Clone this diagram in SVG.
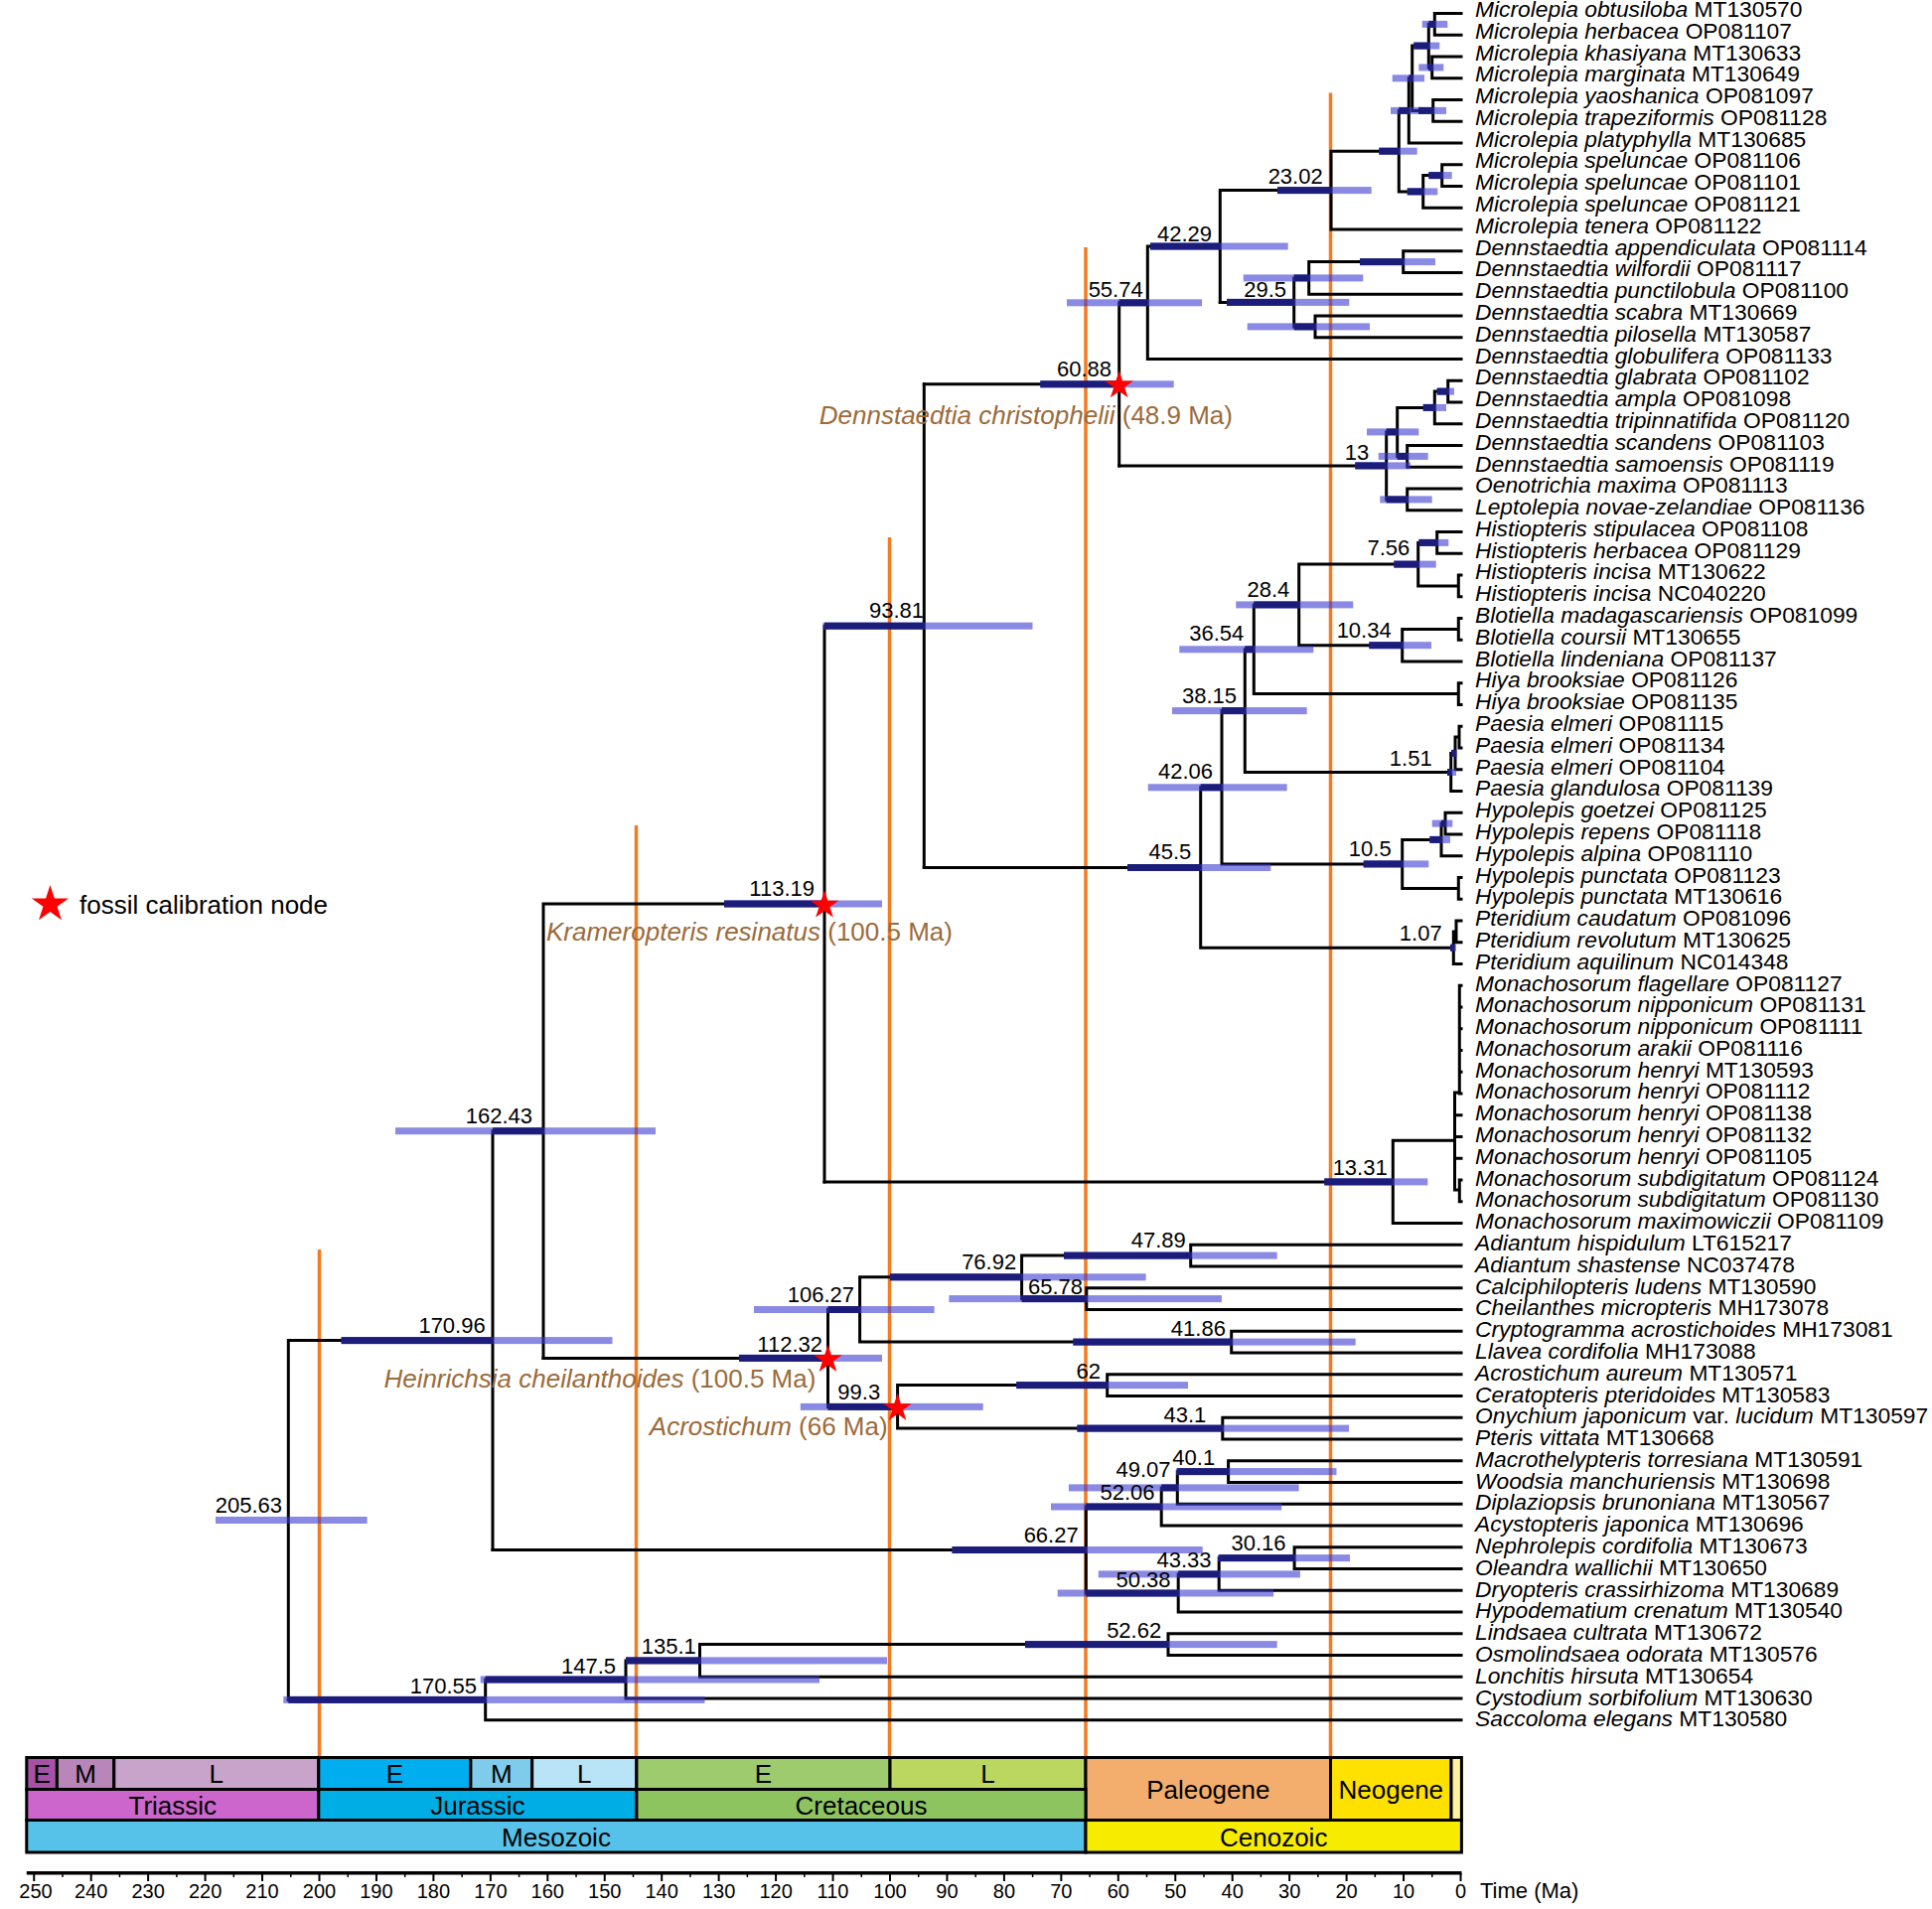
<svg xmlns="http://www.w3.org/2000/svg" width="1945" height="1922" viewBox="0 0 1945 1922">
<style>
text{font-family:'Liberation Sans',Arial,Helvetica,sans-serif;fill:#000}
.tip{font-size:22.8px}
.nl{font-size:22px;text-anchor:end}
.fos{font-size:26px;fill:#9B6B3B}
.geo{font-size:26px;text-anchor:middle}
.ax{font-size:20px;text-anchor:middle}
.br{stroke:#000;stroke-width:3;fill:none;stroke-linecap:square}
.or{stroke:#F47B20;stroke-width:3.5}
.bl{fill:#3C3CD2;fill-opacity:0.6}
.bd{fill:#1C1C7A}
.cell{stroke:#000;stroke-width:3}
.it{font-style:italic}
</style>
<defs>
<path id="star" d="M0,-15 L3.37,-4.64 L14.27,-4.64 L5.45,1.77 L8.82,12.14 L0,5.73 L-8.82,12.14 L-5.45,1.77 L-14.27,-4.64 L-3.37,-4.64Z" fill="#FF0000"/>
</defs>
<rect width="1945" height="1922" fill="#fff"/>

<g id="boundaries">
<line class="or" x1="321.5" y1="1258" x2="321.5" y2="1769.5"/>
<line class="or" x1="640.5" y1="831" x2="640.5" y2="1769.5"/>
<line class="or" x1="895.5" y1="541" x2="895.5" y2="1769.5"/>
<line class="or" x1="1093" y1="249" x2="1093" y2="1769.5"/>
<line class="or" x1="1339.5" y1="93.5" x2="1339.5" y2="1769.5"/>
</g>

<g id="timescale">
<rect class="cell" x="26.8" y="1769.5" width="30.6" height="32" fill="#A650A6"/>
<rect class="cell" x="57.4" y="1769.5" width="57.4" height="32" fill="#B886B9"/>
<rect class="cell" x="114.8" y="1769.5" width="206" height="32" fill="#C8A4CB"/>
<rect class="cell" x="320.8" y="1769.5" width="153.1" height="32" fill="#00AEEF"/>
<rect class="cell" x="473.9" y="1769.5" width="61.8" height="32" fill="#7FCBEB"/>
<rect class="cell" x="535.7" y="1769.5" width="105.2" height="32" fill="#B9E3F6"/>
<rect class="cell" x="640.9" y="1769.5" width="255.1" height="32" fill="#9DCB6E"/>
<rect class="cell" x="896" y="1769.5" width="197" height="32" fill="#BCD75F"/>
<rect class="cell" x="1093" y="1769.5" width="246.5" height="63" fill="#F3AE6D"/>
<rect class="cell" x="1339.5" y="1769.5" width="121.5" height="63" fill="#FFE100"/>
<rect class="cell" x="1461" y="1769.5" width="10.4" height="63" fill="#FFF2A0"/>
<rect class="cell" x="26.8" y="1801.5" width="294" height="31" fill="#CC66CC"/>
<rect class="cell" x="320.8" y="1801.5" width="320.1" height="31" fill="#00AEE6"/>
<rect class="cell" x="640.9" y="1801.5" width="452.1" height="31" fill="#8DC460"/>
<rect class="cell" x="26.8" y="1832.5" width="1066.2" height="32.5" fill="#56C2E9"/>
<rect class="cell" x="1093" y="1832.5" width="378.4" height="32.5" fill="#F7EC00"/>
<text class="geo" x="42.1" y="1795">E</text>
<text class="geo" x="86" y="1795">M</text>
<text class="geo" x="217.8" y="1795">L</text>
<text class="geo" x="397.4" y="1795">E</text>
<text class="geo" x="504.8" y="1795">M</text>
<text class="geo" x="588.3" y="1795">L</text>
<text class="geo" x="768.5" y="1795">E</text>
<text class="geo" x="994.5" y="1795">L</text>
<text class="geo" x="1216.3" y="1810.5">Paleogene</text>
<text class="geo" x="1400.3" y="1810.5">Neogene</text>
<text class="geo" x="173.8" y="1826.5">Triassic</text>
<text class="geo" x="480.9" y="1826.5">Jurassic</text>
<text class="geo" x="867" y="1826.5">Cretaceous</text>
<text class="geo" x="560" y="1858.5">Mesozoic</text>
<text class="geo" x="1282.2" y="1858.5">Cenozoic</text>
</g>

<g id="axis">
<line x1="26.8" y1="1885.7" x2="1471.5" y2="1885.7" stroke="#000" stroke-width="3.5"/>
<path stroke="#000" stroke-width="2" fill="none" d="M1470.5,1886v8M1413.05,1886v8M1355.6,1886v8M1298.15,1886v8M1240.7,1886v8M1183.25,1886v8M1125.8,1886v8M1068.35,1886v8M1010.9,1886v8M953.45,1886v8M896,1886v8M838.55,1886v8M781.1,1886v8M723.65,1886v8M666.2,1886v8M608.75,1886v8M551.3,1886v8M493.85,1886v8M436.4,1886v8M378.95,1886v8M321.5,1886v8M264.05,1886v8M206.6,1886v8M149.15,1886v8M91.7,1886v8M34.25,1886v8"/>
<path stroke="#000" stroke-width="1.5" fill="none" d="M1441.78,1886v4M1384.33,1886v4M1326.88,1886v4M1269.43,1886v4M1211.98,1886v4M1154.53,1886v4M1097.08,1886v4M1039.63,1886v4M982.18,1886v4M924.73,1886v4M867.28,1886v4M809.83,1886v4M752.38,1886v4M694.93,1886v4M637.48,1886v4M580.03,1886v4M522.58,1886v4M465.13,1886v4M407.68,1886v4M350.23,1886v4M292.78,1886v4M235.33,1886v4M177.88,1886v4M120.43,1886v4M62.98,1886v4"/>
<text class="ax" x="1470.5" y="1911">0</text>
<text class="ax" x="1413.05" y="1911">10</text>
<text class="ax" x="1355.6" y="1911">20</text>
<text class="ax" x="1298.15" y="1911">30</text>
<text class="ax" x="1240.7" y="1911">40</text>
<text class="ax" x="1183.25" y="1911">50</text>
<text class="ax" x="1125.8" y="1911">60</text>
<text class="ax" x="1068.35" y="1911">70</text>
<text class="ax" x="1010.9" y="1911">80</text>
<text class="ax" x="953.45" y="1911">90</text>
<text class="ax" x="896" y="1911">100</text>
<text class="ax" x="838.55" y="1911">110</text>
<text class="ax" x="781.1" y="1911">120</text>
<text class="ax" x="723.65" y="1911">130</text>
<text class="ax" x="666.2" y="1911">140</text>
<text class="ax" x="608.75" y="1911">150</text>
<text class="ax" x="551.3" y="1911">160</text>
<text class="ax" x="493.85" y="1911">170</text>
<text class="ax" x="436.4" y="1911">180</text>
<text class="ax" x="378.95" y="1911">190</text>
<text class="ax" x="321.5" y="1911">200</text>
<text class="ax" x="264.05" y="1911">210</text>
<text class="ax" x="206.6" y="1911">220</text>
<text class="ax" x="149.15" y="1911">230</text>
<text class="ax" x="91.7" y="1911">240</text>
<text class="ax" x="36" y="1911">250</text>
<text x="1490" y="1911" font-size="22">Time (Ma)</text>
</g>

<g id="connectors">
<path class="br" d="M290.3,1349.6V1711.4M290.3,1349.6H496M496,1138.7V1560.5M496,1138.7H547M547,910V1367.4M547,910H830M830,630.2V1189.9M830,630.2H930.3M930.3,386.8V873.5"/>
<path class="br" d="M930.3,386.8H1126.7M1126.7,304.8V468.9M1126.7,304.8H1155.3M1155.3,248V361.5M1155.3,361.5H1471M1155.3,248H1228.3M1228.3,191.6V304.4M1228.3,191.6H1340M1340,152.2V231M1340,231H1471M1340,152.2H1408.3M1408.3,111.4V192.9M1408.3,111.4H1418.3M1418.3,78.8V144M1418.3,144H1471M1418.3,78.8H1421.7M1421.7,46.1V111.4M1421.7,46.1H1438.3M1438.3,24.4V67.9M1438.3,24.4H1444.3M1444.3,13.5V35.25M1444.3,13.5H1471M1444.3,35.25H1471M1438.3,67.9H1441.7M1441.7,57V78.75M1441.7,57H1471M1441.7,78.75H1471M1421.7,111.4H1442.7M1442.7,100.5V122.25M1442.7,100.5H1471M1442.7,122.25H1471M1408.3,192.9H1432.7M1432.7,176.6V209.25M1432.7,209.25H1471M1432.7,176.6H1451.7M1451.7,165.75V187.5M1451.7,165.75H1471M1451.7,187.5H1471"/>
<path class="br" d="M1228.3,304.4H1302.7M1302.7,279.9V328.9M1302.7,279.9H1317.7M1317.7,263.6V296.25M1317.7,296.25H1471M1317.7,263.6H1412.7M1412.7,252.75V274.5M1412.7,252.75H1471M1412.7,274.5H1471M1302.7,328.9H1324M1324,318V339.75M1324,318H1471M1324,339.75H1471"/>
<path class="br" d="M1126.7,468.9H1395.7M1395.7,434.9V502.9M1395.7,434.9H1406.7M1406.7,410.4V459.4M1406.7,410.4H1444.3M1444.3,394.1V426.75M1444.3,426.75H1471M1444.3,394.1H1457.7M1457.7,383.25V405M1457.7,383.25H1471M1457.7,405H1471M1406.7,459.4H1416.7M1416.7,448.5V470.25M1416.7,448.5H1471M1416.7,470.25H1471M1395.7,502.9H1416.7M1416.7,492V513.75M1416.7,492H1471M1416.7,513.75H1471"/>
<path class="br" d="M930.3,873.5H1208.7M1208.7,792.8V954.2M1208.7,792.8H1230M1230,715.6V869.9M1230,715.6H1253.3M1253.3,653.8V777.5M1253.3,653.8H1262.3M1262.3,608.9V698.6M1262.3,608.9H1307.7M1307.7,568.1V649.7M1307.7,568.1H1427.7M1427.7,546.4V589.9M1427.7,546.4H1446.7M1446.7,535.5V557.25M1446.7,535.5H1471M1446.7,557.25H1471M1427.7,589.9H1468.3M1468.3,579V600.75M1468.3,579H1471M1468.3,600.75H1471M1307.7,649.7H1411.7M1411.7,633.4V666M1411.7,666H1471M1411.7,633.4H1468.3M1468.3,622.5V644.25M1468.3,622.5H1471M1468.3,644.25H1471M1262.3,698.6H1468.3M1468.3,687.75V709.5M1468.3,687.75H1471M1468.3,709.5H1471M1253.3,777.5H1460.7M1460.7,758.4V796.5M1460.7,796.5H1471M1460.7,758.4H1465M1465,742.1V774.75M1465,774.75H1471M1465,742.1H1469M1469,731.25V753M1469,731.25H1471M1469,753H1471M1230,869.9H1411.7M1411.7,845.4V894.4M1411.7,845.4H1451M1451,829.1V861.75M1451,861.75H1471M1451,829.1H1455M1455,818.25V840M1455,818.25H1471M1455,840H1471M1411.7,894.4H1468.3M1468.3,883.5V905.25M1468.3,883.5H1471M1468.3,905.25H1471M1208.7,954.2H1463.3M1463.3,937.9V970.5M1463.3,970.5H1471M1463.3,937.9H1466M1466,927V948.75M1466,927H1471M1466,948.75H1471"/>
<path class="br" d="M830,1189.9H1402.3M1402.3,1148.3V1231.5M1402.3,1231.5H1471M1402.3,1148.3H1464.5M1464.5,1100V1198M1464.5,1100H1469.3M1469.3,992.25V1101M1469.3,992.25H1471M1469.3,1014H1471M1469.3,1035.75H1471M1469.3,1057.5H1471M1469.3,1079.25H1471M1469.3,1101H1471M1464.5,1122.75H1471M1464.5,1144.5H1471M1464.5,1166.25H1471M1464.5,1198H1469.3M1469.3,1188V1209.75M1469.3,1188H1471M1469.3,1209.75H1471"/>
<path class="br" d="M547,1367.4H833.5M833.5,1318.5V1416.4M833.5,1318.5H865.6M865.6,1285.8V1351.1M865.6,1285.8H1028.6M1028.6,1264.1V1307.6M1028.6,1264.1H1198.7M1198.7,1253.25V1275M1198.7,1253.25H1471M1198.7,1275H1471M1028.6,1307.6H1093.8M1093.8,1296.75V1318.5M1093.8,1296.75H1471M1093.8,1318.5H1471M865.6,1351.1H1239.7M1239.7,1340.25V1362M1239.7,1340.25H1471M1239.7,1362H1471M833.5,1416.4H903.6M903.6,1394.6V1438.1M903.6,1394.6H1114.7M1114.7,1383.75V1405.5M1114.7,1383.75H1471M1114.7,1405.5H1471M903.6,1438.1H1230.8M1230.8,1427.25V1449M1230.8,1427.25H1471M1230.8,1449H1471"/>
<path class="br" d="M496,1560.5H1093.3M1093.3,1517V1604M1093.3,1517H1169.2M1169.2,1497.9V1536M1169.2,1536H1471M1169.2,1497.9H1185.3M1185.3,1481.6V1514.25M1185.3,1514.25H1471M1185.3,1481.6H1236.6M1236.6,1470.75V1492.5M1236.6,1470.75H1471M1236.6,1492.5H1471M1093.3,1604H1186.2M1186.2,1584.9V1623M1186.2,1623H1471M1186.2,1584.9H1227.2M1227.2,1568.6V1601.25M1227.2,1601.25H1471M1227.2,1568.6H1303.1M1303.1,1557.75V1579.5M1303.1,1557.75H1471M1303.1,1579.5H1471"/>
<path class="br" d="M290.3,1711.4H488.7M488.7,1691V1731.75M488.7,1731.75H1471M488.7,1691H630M630,1671.9V1710M630,1710H1471M630,1671.9H704.5M704.5,1655.6V1688.25M704.5,1688.25H1471M704.5,1655.6H1176M1176,1644.75V1666.5M1176,1644.75H1471M1176,1666.5H1471"/>
</g>

<g id="hpd-bars">
<rect class="bl" x="217" y="1527" width="152.6" height="7"/>
<rect class="bl" x="343.6" y="1346.1" width="272.9" height="7"/><rect class="bd" x="343.6" y="1346.1" width="152.4" height="7"/>
<rect class="bl" x="398" y="1135.2" width="262" height="7"/><rect class="bd" x="496" y="1135.2" width="51" height="7"/>
<rect class="bl" x="729" y="906.5" width="159" height="7"/><rect class="bd" x="729" y="906.5" width="101" height="7"/>
<rect class="bl" x="828.6" y="626.7" width="210.9" height="7"/><rect class="bd" x="830" y="626.7" width="100.3" height="7"/>
<rect class="bl" x="1047.3" y="383.3" width="134.4" height="7"/><rect class="bd" x="1047.3" y="383.3" width="79.4" height="7"/>
<rect class="bl" x="1074" y="301.3" width="136" height="7"/><rect class="bd" x="1126.7" y="301.3" width="28.6" height="7"/>
<rect class="bl" x="1158" y="244.5" width="138.7" height="7"/><rect class="bd" x="1158" y="244.5" width="70.3" height="7"/>
<rect class="bl" x="1286" y="188.1" width="94.7" height="7"/><rect class="bd" x="1286" y="188.1" width="54" height="7"/>
<rect class="bl" x="1388.3" y="148.7" width="38.4" height="7"/><rect class="bd" x="1388.3" y="148.7" width="20" height="7"/>
<rect class="bl" x="1400" y="107.9" width="32" height="7"/><rect class="bd" x="1408.3" y="107.9" width="10" height="7"/>
<rect class="bl" x="1401.7" y="75.3" width="32.3" height="7"/><rect class="bd" x="1418.3" y="75.3" width="3.4" height="7"/>
<rect class="bl" x="1423.3" y="42.6" width="26" height="7"/><rect class="bd" x="1423.3" y="42.6" width="15" height="7"/>
<rect class="bl" x="1431.7" y="20.9" width="25.6" height="7"/><rect class="bd" x="1438.3" y="20.9" width="6" height="7"/>
<rect class="bl" x="1428.3" y="64.4" width="25" height="7"/><rect class="bd" x="1438.3" y="64.4" width="3.4" height="7"/>
<rect class="bl" x="1428" y="107.9" width="28" height="7"/><rect class="bd" x="1428" y="107.9" width="14.7" height="7"/>
<rect class="bl" x="1416.7" y="189.4" width="30.6" height="7"/><rect class="bd" x="1416.7" y="189.4" width="16" height="7"/>
<rect class="bl" x="1438.3" y="173.1" width="23.4" height="7"/><rect class="bd" x="1438.3" y="173.1" width="13.4" height="7"/>
<rect class="bl" x="1235" y="300.9" width="123.3" height="7"/><rect class="bd" x="1235" y="300.9" width="67.7" height="7"/>
<rect class="bl" x="1251.7" y="276.4" width="120.6" height="7"/><rect class="bd" x="1302.7" y="276.4" width="15" height="7"/>
<rect class="bl" x="1369" y="260.1" width="76" height="7"/><rect class="bd" x="1369" y="260.1" width="43.7" height="7"/>
<rect class="bl" x="1255.7" y="325.4" width="123.3" height="7"/><rect class="bd" x="1302.7" y="325.4" width="21.3" height="7"/>
<rect class="bl" x="1364.3" y="465.4" width="55.7" height="7"/><rect class="bd" x="1364.3" y="465.4" width="31.4" height="7"/>
<rect class="bl" x="1376" y="431.4" width="52.3" height="7"/><rect class="bd" x="1395.7" y="431.4" width="11" height="7"/>
<rect class="bl" x="1432.7" y="406.9" width="23.3" height="7"/><rect class="bd" x="1432.7" y="406.9" width="11.6" height="7"/>
<rect class="bl" x="1446.7" y="390.6" width="17.3" height="7"/><rect class="bd" x="1446.7" y="390.6" width="11" height="7"/>
<rect class="bl" x="1387.7" y="455.9" width="50" height="7"/><rect class="bd" x="1406.7" y="455.9" width="10" height="7"/>
<rect class="bl" x="1389.3" y="499.4" width="52.4" height="7"/><rect class="bd" x="1395.7" y="499.4" width="21" height="7"/>
<rect class="bl" x="1135" y="870" width="144.3" height="7"/><rect class="bd" x="1135" y="870" width="73.7" height="7"/>
<rect class="bl" x="1155.7" y="789.3" width="140" height="7"/><rect class="bd" x="1208.7" y="789.3" width="21.3" height="7"/>
<rect class="bl" x="1180" y="712.1" width="135.7" height="7"/><rect class="bd" x="1230" y="712.1" width="23.3" height="7"/>
<rect class="bl" x="1187.3" y="650.3" width="135" height="7"/><rect class="bd" x="1253.3" y="650.3" width="9" height="7"/>
<rect class="bl" x="1244.3" y="605.4" width="118" height="7"/><rect class="bd" x="1262.3" y="605.4" width="45.4" height="7"/>
<rect class="bl" x="1403.3" y="564.6" width="42.4" height="7"/><rect class="bd" x="1403.3" y="564.6" width="24.4" height="7"/>
<rect class="bl" x="1428.3" y="542.9" width="30" height="7"/><rect class="bd" x="1428.3" y="542.9" width="18.4" height="7"/>
<rect class="bl" x="1378.3" y="646.2" width="62.7" height="7"/><rect class="bd" x="1378.3" y="646.2" width="33.4" height="7"/>
<rect class="bl" x="1372.7" y="866.4" width="65.6" height="7"/><rect class="bd" x="1372.7" y="866.4" width="39" height="7"/>
<rect class="bl" x="1439.3" y="841.9" width="20.7" height="7"/><rect class="bd" x="1439.3" y="841.9" width="11.7" height="7"/>
<rect class="bl" x="1441.7" y="825.6" width="20.6" height="7"/><rect class="bd" x="1451" y="825.6" width="4" height="7"/>
<rect class="bl" x="1457" y="774" width="9" height="7"/><rect class="bd" x="1457" y="774" width="3.7" height="7"/>
<rect class="bl" x="1461" y="754.9" width="6" height="7"/><rect class="bd" x="1461" y="754.9" width="4" height="7"/>
<rect class="bl" x="1460" y="950.7" width="6" height="7"/><rect class="bd" x="1460" y="950.7" width="3.3" height="7"/>
<rect class="bl" x="1333.3" y="1186.4" width="104" height="7"/><rect class="bd" x="1333.3" y="1186.4" width="69" height="7"/>
<rect class="bl" x="744" y="1363.9" width="144" height="7"/><rect class="bd" x="744" y="1363.9" width="89.5" height="7"/>
<rect class="bl" x="759" y="1315" width="181.6" height="7"/><rect class="bd" x="833.5" y="1315" width="32.1" height="7"/>
<rect class="bl" x="896" y="1282.3" width="257.6" height="7"/><rect class="bd" x="896" y="1282.3" width="132.6" height="7"/>
<rect class="bl" x="1071" y="1260.6" width="214.7" height="7"/><rect class="bd" x="1071" y="1260.6" width="127.7" height="7"/>
<rect class="bl" x="955.4" y="1304.1" width="274.5" height="7"/><rect class="bd" x="1028.6" y="1304.1" width="65.2" height="7"/>
<rect class="bl" x="1080.4" y="1347.6" width="284.3" height="7"/><rect class="bd" x="1080.4" y="1347.6" width="159.3" height="7"/>
<rect class="bl" x="805.8" y="1412.9" width="183.9" height="7"/><rect class="bd" x="833.5" y="1412.9" width="70.1" height="7"/>
<rect class="bl" x="1023.2" y="1391.1" width="172.8" height="7"/><rect class="bd" x="1023.2" y="1391.1" width="91.5" height="7"/>
<rect class="bl" x="1084.4" y="1434.6" width="273.6" height="7"/><rect class="bd" x="1084.4" y="1434.6" width="146.4" height="7"/>
<rect class="bl" x="958.5" y="1557" width="252.2" height="7"/><rect class="bd" x="958.5" y="1557" width="134.8" height="7"/>
<rect class="bl" x="1058" y="1513.5" width="232.2" height="7"/><rect class="bd" x="1093.3" y="1513.5" width="75.9" height="7"/>
<rect class="bl" x="1075.9" y="1494.4" width="231.7" height="7"/><rect class="bd" x="1169.2" y="1494.4" width="16.1" height="7"/>
<rect class="bl" x="1184" y="1478.1" width="161.5" height="7"/><rect class="bd" x="1185.3" y="1478.1" width="51.3" height="7"/>
<rect class="bl" x="1064.7" y="1600.5" width="217.4" height="7"/><rect class="bd" x="1093.3" y="1600.5" width="92.9" height="7"/>
<rect class="bl" x="1105.8" y="1581.4" width="203.1" height="7"/><rect class="bd" x="1186.2" y="1581.4" width="41" height="7"/>
<rect class="bl" x="1226" y="1565.1" width="133" height="7"/><rect class="bd" x="1227.2" y="1565.1" width="75.9" height="7"/>
<rect class="bl" x="285.3" y="1707.9" width="424.2" height="7"/><rect class="bd" x="290.3" y="1707.9" width="198.4" height="7"/>
<rect class="bl" x="483.7" y="1687.5" width="341.3" height="7"/><rect class="bd" x="488.7" y="1687.5" width="141.3" height="7"/>
<rect class="bl" x="630" y="1668.4" width="263" height="7"/><rect class="bd" x="630" y="1668.4" width="74.5" height="7"/>
<rect class="bl" x="1032" y="1652.1" width="253.7" height="7"/><rect class="bd" x="1032" y="1652.1" width="144" height="7"/>
</g>

<g id="calibrations">
<use href="#star" x="1126.7" y="388.2"/>
<use href="#star" x="830" y="911.4"/>
<use href="#star" x="833.5" y="1368.8"/>
<use href="#star" x="903.6" y="1417.8"/>
</g>

<g id="node-labels">
<g id="n23.02"><text class="nl" x="1331.7" y="185">23.02</text></g>
<g id="n29.5"><text class="nl" x="1295" y="299">29.5</text></g>
<g id="n42.29"><text class="nl" x="1220" y="243">42.29</text></g>
<g id="n55.74"><text class="nl" x="1150.7" y="299">55.74</text></g>
<g id="n60.88"><text class="nl" x="1119" y="378.5">60.88</text></g>
<g id="n13"><text class="nl" x="1378.3" y="463">13</text></g>
<g id="n7.56"><text class="nl" x="1419.3" y="559">7.56</text></g>
<g id="n28.4"><text class="nl" x="1298.3" y="600.5">28.4</text></g>
<g id="n10.34"><text class="nl" x="1400.7" y="642">10.34</text></g>
<g id="n36.54"><text class="nl" x="1252.3" y="645">36.54</text></g>
<g id="n38.15"><text class="nl" x="1245" y="707.5">38.15</text></g>
<g id="n1.51"><text class="nl" x="1441.7" y="770.5">1.51</text></g>
<g id="n42.06"><text class="nl" x="1221" y="784">42.06</text></g>
<g id="n10.5"><text class="nl" x="1400.7" y="861.5">10.5</text></g>
<g id="n45.5"><text class="nl" x="1199.3" y="865">45.5</text></g>
<g id="n1.07"><text class="nl" x="1451.7" y="947">1.07</text></g>
<g id="n93.81"><text class="nl" x="930" y="622">93.81</text></g>
<g id="n113.19"><text class="nl" x="820" y="901.7">113.19</text></g>
<g id="n13.31"><text class="nl" x="1396.7" y="1182.7">13.31</text></g>
<g id="n162.43"><text class="nl" x="536" y="1131">162.43</text></g>
<g id="n170.96"><text class="nl" x="488.7" y="1342">170.96</text></g>
<g id="n205.63"><text class="nl" x="284" y="1523">205.63</text></g>
<g id="n170.55"><text class="nl" x="480" y="1705">170.55</text></g>
<g id="n147.5"><text class="nl" x="620" y="1685">147.5</text></g>
<g id="n135.1"><text class="nl" x="700.8" y="1665">135.1</text></g>
<g id="n52.62"><text class="nl" x="1169.2" y="1649">52.62</text></g>
<g id="n47.89"><text class="nl" x="1193.8" y="1256">47.89</text></g>
<g id="n76.92"><text class="nl" x="1023.2" y="1278">76.92</text></g>
<g id="n65.78"><text class="nl" x="1090" y="1302.5">65.78</text></g>
<g id="n106.27"><text class="nl" x="860" y="1311">106.27</text></g>
<g id="n41.86"><text class="nl" x="1233.9" y="1344.6">41.86</text></g>
<g id="n112.32"><text class="nl" x="828" y="1360.7">112.32</text></g>
<g id="n62"><text class="nl" x="1108" y="1387.7">62</text></g>
<g id="n99.3"><text class="nl" x="886.2" y="1408.8">99.3</text></g>
<g id="n43.1"><text class="nl" x="1214.3" y="1431.6">43.1</text></g>
<g id="n40.1"><text class="nl" x="1223.2" y="1475.4">40.1</text></g>
<g id="n49.07"><text class="nl" x="1178.6" y="1487">49.07</text></g>
<g id="n52.06"><text class="nl" x="1162.5" y="1509.5">52.06</text></g>
<g id="n66.27"><text class="nl" x="1085.7" y="1552.6">66.27</text></g>
<g id="n30.16"><text class="nl" x="1294.6" y="1561.4">30.16</text></g>
<g id="n43.33"><text class="nl" x="1219.6" y="1578.2">43.33</text></g>
<g id="n50.38"><text class="nl" x="1178.6" y="1598.2">50.38</text></g>
</g>

<g id="fossil-labels">
<g id="f-dennstaedtia"><text class="fos" x="1241" y="427" text-anchor="end"><tspan class="it">Dennstaedtia christophelii</tspan> (48.9 Ma)</text></g>
<g id="f-krameropteris"><text class="fos" x="550" y="946.7"><tspan class="it">Krameropteris resinatus</tspan> (100.5 Ma)</text></g>
<g id="f-heinrichsia"><text class="fos" x="386.4" y="1396.7"><tspan class="it">Heinrichsia cheilanthoides</tspan> (100.5 Ma)</text></g>
<g id="f-acrostichum"><text class="fos" x="653.8" y="1445"><tspan class="it">Acrostichum</tspan> (66 Ma)</text></g>
</g>

<g id="legend">
<use href="#star" transform="translate(50.5,910.5) scale(1.3)"/>
<text x="80" y="920" font-size="26">fossil calibration node</text>
</g>

<g id="tips" class="tip">
<g id="t1"><text class="tip" x="1485" y="16.9"><tspan class="it">Microlepia obtusiloba</tspan> MT130570</text></g>
<g id="t2"><text class="tip" x="1485" y="38.7"><tspan class="it">Microlepia herbacea</tspan> OP081107</text></g>
<g id="t3"><text class="tip" x="1485" y="60.5"><tspan class="it">Microlepia khasiyana</tspan> MT130633</text></g>
<g id="t4"><text class="tip" x="1485" y="82.3"><tspan class="it">Microlepia marginata</tspan> MT130649</text></g>
<g id="t5"><text class="tip" x="1485" y="104.1"><tspan class="it">Microlepia yaoshanica</tspan> OP081097</text></g>
<g id="t6"><text class="tip" x="1485" y="125.9"><tspan class="it">Microlepia trapeziformis</tspan> OP081128</text></g>
<g id="t7"><text class="tip" x="1485" y="147.6"><tspan class="it">Microlepia platyphylla</tspan> MT130685</text></g>
<g id="t8"><text class="tip" x="1485" y="169.4"><tspan class="it">Microlepia speluncae</tspan> OP081106</text></g>
<g id="t9"><text class="tip" x="1485" y="191.2"><tspan class="it">Microlepia speluncae</tspan> OP081101</text></g>
<g id="t10"><text class="tip" x="1485" y="213"><tspan class="it">Microlepia speluncae</tspan> OP081121</text></g>
<g id="t11"><text class="tip" x="1485" y="234.8"><tspan class="it">Microlepia tenera</tspan> OP081122</text></g>
<g id="t12"><text class="tip" x="1485" y="256.6"><tspan class="it">Dennstaedtia appendiculata</tspan> OP081114</text></g>
<g id="t13"><text class="tip" x="1485" y="278.4"><tspan class="it">Dennstaedtia wilfordii</tspan> OP081117</text></g>
<g id="t14"><text class="tip" x="1485" y="300.2"><tspan class="it">Dennstaedtia punctilobula</tspan> OP081100</text></g>
<g id="t15"><text class="tip" x="1485" y="322"><tspan class="it">Dennstaedtia scabra</tspan> MT130669</text></g>
<g id="t16"><text class="tip" x="1485" y="343.8"><tspan class="it">Dennstaedtia pilosella</tspan> MT130587</text></g>
<g id="t17"><text class="tip" x="1485" y="365.5"><tspan class="it">Dennstaedtia globulifera</tspan> OP081133</text></g>
<g id="t18"><text class="tip" x="1485" y="387.3"><tspan class="it">Dennstaedtia glabrata</tspan> OP081102</text></g>
<g id="t19"><text class="tip" x="1485" y="409.1"><tspan class="it">Dennstaedtia ampla</tspan> OP081098</text></g>
<g id="t20"><text class="tip" x="1485" y="430.9"><tspan class="it">Dennstaedtia tripinnatifida</tspan> OP081120</text></g>
<g id="t21"><text class="tip" x="1485" y="452.7"><tspan class="it">Dennstaedtia scandens</tspan> OP081103</text></g>
<g id="t22"><text class="tip" x="1485" y="474.5"><tspan class="it">Dennstaedtia samoensis</tspan> OP081119</text></g>
<g id="t23"><text class="tip" x="1485" y="496.3"><tspan class="it">Oenotrichia maxima</tspan> OP081113</text></g>
<g id="t24"><text class="tip" x="1485" y="518.1"><tspan class="it">Leptolepia novae-zelandiae</tspan> OP081136</text></g>
<g id="t25"><text class="tip" x="1485" y="539.9"><tspan class="it">Histiopteris stipulacea</tspan> OP081108</text></g>
<g id="t26"><text class="tip" x="1485" y="561.7"><tspan class="it">Histiopteris herbacea</tspan> OP081129</text></g>
<g id="t27"><text class="tip" x="1485" y="583.4"><tspan class="it">Histiopteris incisa</tspan> MT130622</text></g>
<g id="t28"><text class="tip" x="1485" y="605.2"><tspan class="it">Histiopteris incisa</tspan> NC040220</text></g>
<g id="t29"><text class="tip" x="1485" y="627"><tspan class="it">Blotiella madagascariensis</tspan> OP081099</text></g>
<g id="t30"><text class="tip" x="1485" y="648.8"><tspan class="it">Blotiella coursii</tspan> MT130655</text></g>
<g id="t31"><text class="tip" x="1485" y="670.6"><tspan class="it">Blotiella lindeniana</tspan> OP081137</text></g>
<g id="t32"><text class="tip" x="1485" y="692.4"><tspan class="it">Hiya brooksiae</tspan> OP081126</text></g>
<g id="t33"><text class="tip" x="1485" y="714.2"><tspan class="it">Hiya brooksiae</tspan> OP081135</text></g>
<g id="t34"><text class="tip" x="1485" y="736"><tspan class="it">Paesia elmeri</tspan> OP081115</text></g>
<g id="t35"><text class="tip" x="1485" y="757.8"><tspan class="it">Paesia elmeri</tspan> OP081134</text></g>
<g id="t36"><text class="tip" x="1485" y="779.6"><tspan class="it">Paesia elmeri</tspan> OP081104</text></g>
<g id="t37"><text class="tip" x="1485" y="801.3"><tspan class="it">Paesia glandulosa</tspan> OP081139</text></g>
<g id="t38"><text class="tip" x="1485" y="823.1"><tspan class="it">Hypolepis goetzei</tspan> OP081125</text></g>
<g id="t39"><text class="tip" x="1485" y="844.9"><tspan class="it">Hypolepis repens</tspan> OP081118</text></g>
<g id="t40"><text class="tip" x="1485" y="866.7"><tspan class="it">Hypolepis alpina</tspan> OP081110</text></g>
<g id="t41"><text class="tip" x="1485" y="888.5"><tspan class="it">Hypolepis punctata</tspan> OP081123</text></g>
<g id="t42"><text class="tip" x="1485" y="910.3"><tspan class="it">Hypolepis punctata</tspan> MT130616</text></g>
<g id="t43"><text class="tip" x="1485" y="932.1"><tspan class="it">Pteridium caudatum</tspan> OP081096</text></g>
<g id="t44"><text class="tip" x="1485" y="953.9"><tspan class="it">Pteridium revolutum</tspan> MT130625</text></g>
<g id="t45"><text class="tip" x="1485" y="975.7"><tspan class="it">Pteridium aquilinum</tspan> NC014348</text></g>
<g id="t46"><text class="tip" x="1485" y="997.5"><tspan class="it">Monachosorum flagellare</tspan> OP081127</text></g>
<g id="t47"><text class="tip" x="1485" y="1019.2"><tspan class="it">Monachosorum nipponicum</tspan> OP081131</text></g>
<g id="t48"><text class="tip" x="1485" y="1041"><tspan class="it">Monachosorum nipponicum</tspan> OP081111</text></g>
<g id="t49"><text class="tip" x="1485" y="1062.8"><tspan class="it">Monachosorum arakii</tspan> OP081116</text></g>
<g id="t50"><text class="tip" x="1485" y="1084.6"><tspan class="it">Monachosorum henryi</tspan> MT130593</text></g>
<g id="t51"><text class="tip" x="1485" y="1106.4"><tspan class="it">Monachosorum henryi</tspan> OP081112</text></g>
<g id="t52"><text class="tip" x="1485" y="1128.2"><tspan class="it">Monachosorum henryi</tspan> OP081138</text></g>
<g id="t53"><text class="tip" x="1485" y="1150"><tspan class="it">Monachosorum henryi</tspan> OP081132</text></g>
<g id="t54"><text class="tip" x="1485" y="1171.8"><tspan class="it">Monachosorum henryi</tspan> OP081105</text></g>
<g id="t55"><text class="tip" x="1485" y="1193.6"><tspan class="it">Monachosorum subdigitatum</tspan> OP081124</text></g>
<g id="t56"><text class="tip" x="1485" y="1215.4"><tspan class="it">Monachosorum subdigitatum</tspan> OP081130</text></g>
<g id="t57"><text class="tip" x="1485" y="1237.1"><tspan class="it">Monachosorum maximowiczii</tspan> OP081109</text></g>
<g id="t58"><text class="tip" x="1485" y="1258.9"><tspan class="it">Adiantum hispidulum</tspan> LT615217</text></g>
<g id="t59"><text class="tip" x="1485" y="1280.7"><tspan class="it">Adiantum shastense</tspan> NC037478</text></g>
<g id="t60"><text class="tip" x="1485" y="1302.5"><tspan class="it">Calciphilopteris ludens</tspan> MT130590</text></g>
<g id="t61"><text class="tip" x="1485" y="1324.3"><tspan class="it">Cheilanthes micropteris</tspan> MH173078</text></g>
<g id="t62"><text class="tip" x="1485" y="1346.1"><tspan class="it">Cryptogramma acrostichoides</tspan> MH173081</text></g>
<g id="t63"><text class="tip" x="1485" y="1367.9"><tspan class="it">Llavea cordifolia</tspan> MH173088</text></g>
<g id="t64"><text class="tip" x="1485" y="1389.7"><tspan class="it">Acrostichum aureum</tspan> MT130571</text></g>
<g id="t65"><text class="tip" x="1485" y="1411.5"><tspan class="it">Ceratopteris pteridoides</tspan> MT130583</text></g>
<g id="t66"><text class="tip" x="1485" y="1433.3"><tspan class="it">Onychium japonicum</tspan> var. <tspan class="it">lucidum</tspan> MT130597</text></g>
<g id="t67"><text class="tip" x="1485" y="1455"><tspan class="it">Pteris vittata</tspan> MT130668</text></g>
<g id="t68"><text class="tip" x="1485" y="1476.8"><tspan class="it">Macrothelypteris torresiana</tspan> MT130591</text></g>
<g id="t69"><text class="tip" x="1485" y="1498.6"><tspan class="it">Woodsia manchuriensis</tspan> MT130698</text></g>
<g id="t70"><text class="tip" x="1485" y="1520.4"><tspan class="it">Diplaziopsis brunoniana</tspan> MT130567</text></g>
<g id="t71"><text class="tip" x="1485" y="1542.2"><tspan class="it">Acystopteris japonica</tspan> MT130696</text></g>
<g id="t72"><text class="tip" x="1485" y="1564"><tspan class="it">Nephrolepis cordifolia</tspan> MT130673</text></g>
<g id="t73"><text class="tip" x="1485" y="1585.8"><tspan class="it">Oleandra wallichii</tspan> MT130650</text></g>
<g id="t74"><text class="tip" x="1485" y="1607.6"><tspan class="it">Dryopteris crassirhizoma</tspan> MT130689</text></g>
<g id="t75"><text class="tip" x="1485" y="1629.4"><tspan class="it">Hypodematium crenatum</tspan> MT130540</text></g>
<g id="t76"><text class="tip" x="1485" y="1651.2"><tspan class="it">Lindsaea cultrata</tspan> MT130672</text></g>
<g id="t77"><text class="tip" x="1485" y="1672.9"><tspan class="it">Osmolindsaea odorata</tspan> MT130576</text></g>
<g id="t78"><text class="tip" x="1485" y="1694.7"><tspan class="it">Lonchitis hirsuta</tspan> MT130654</text></g>
<g id="t79"><text class="tip" x="1485" y="1716.5"><tspan class="it">Cystodium sorbifolium</tspan> MT130630</text></g>
<g id="t80"><text class="tip" x="1485" y="1738.3"><tspan class="it">Saccoloma elegans</tspan> MT130580</text></g>
</g>
</svg>
